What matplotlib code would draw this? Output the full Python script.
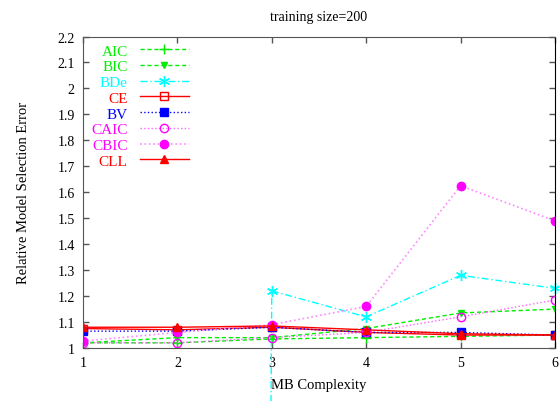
import matplotlib
matplotlib.use("Agg")
import matplotlib.pyplot as plt
import numpy as np

plt.rcParams["font.family"] = ["Liberation Serif", "DejaVu Serif"]

# MB complexity vs relative model selection error, training size = 200
complexity = [1, 2, 3, 4, 5, 6]
aic = [1.02, 1.02, 1.035, 1.04, 1.045, 1.05]
bic = [1.02, 1.04, 1.04, 1.075, 1.135, 1.15]
bde = [np.nan, -50.0, 1.22, 1.12, 1.28, 1.23]  # x=2 far below the axis
ce = [1.075, 1.07, 1.08, 1.06, 1.05, 1.05]
bv = [1.065, 1.065, 1.08, 1.06, 1.06, 1.05]
caic = [1.02, 1.02, 1.04, 1.06, 1.12, 1.185]
cbic = [1.027, 1.06, 1.09, 1.16, 1.625, 1.49]
cll = [1.08, 1.08, 1.085, 1.07, 1.055, 1.05]

yticks = [1, 1.1, 1.2, 1.3, 1.4, 1.5, 1.6, 1.7, 1.8, 1.9, 2, 2.1, 2.2]
ytick_labels = ["1", "1.1", "1.2", "1.3", "1.4", "1.5", "1.6", "1.7", "1.8",
                "1.9", "2", "2.1", "2.2"]

fig = plt.figure(figsize=(5.59, 4.02), dpi=100)
ax = fig.add_axes([0.1485, 0.1318, 0.8443, 0.7749])

green = "#00ee00"
ax.plot(complexity, aic, color=green, ls=(0, (3, 2)), lw=1, marker="+", ms=7,
        mew=1, label="AIC")
ax.plot(complexity, bic, color=green, ls=(0, (3, 2)), lw=1, marker="v", ms=5,
        label="BIC")
ax.plot(complexity, bde, color="#00ffff", ls=(0, (5, 2, 1, 2)), lw=1,
        marker=(6, 2, 0), ms=8, mew=1, clip_on=False, label="BDe")
ax.plot(complexity, ce, color="#ff0000", ls="-", lw=1, marker="s", ms=6,
        mfc="none", label="CE")
ax.plot(complexity, bv, color="#0000ff", ls=":", lw=1, marker="s", ms=6,
        label="BV")
ax.plot(complexity, caic, color="#ff66ff", ls=":", lw=1, marker="o", ms=6,
        mfc="none", mec="#ff00ff", label="CAIC")
ax.plot(complexity, cbic, color="#ff88ff", ls=":", lw=1.2, marker="o", ms=6,
        mfc="#ff00ff", mec="#ff00ff", label="CBIC")
ax.plot(complexity, cll, color="#ff0000", ls="-", lw=1, marker="^", ms=6,
        label="CLL")

ax.set_xlim(1, 6)
ax.set_ylim(1, 2.2)
ax.set_xticks(complexity)
ax.set_yticks(yticks)
ax.set_yticklabels(ytick_labels)
ax.tick_params(direction="in", top=True, right=True, length=4, width=1,
               color="#555555", labelsize=10, pad=6)
for side in ["left", "bottom", "top"]:
    ax.spines[side].set_color("#555555")
ax.spines["right"].set_color("black")

ax.set_xlabel("MB Complexity", fontsize=10.5, labelpad=6)
ax.set_ylabel("Relative Model Selection Error", fontsize=10.5, labelpad=20)
ax.set_title("training size=200", fontsize=10, pad=12)

leg = ax.legend(loc="upper left", frameon=False, markerfirst=False,
                labelcolor="linecolor", fontsize=11, handlelength=3.2,
                handletextpad=0.8, labelspacing=0.13,
                bbox_to_anchor=(-0.005, 1.01), borderaxespad=0.3)
leg.get_texts()[5].set_color("#ff00ff")
leg.get_texts()[6].set_color("#ff00ff")

fig.savefig("out.png", dpi=100)
